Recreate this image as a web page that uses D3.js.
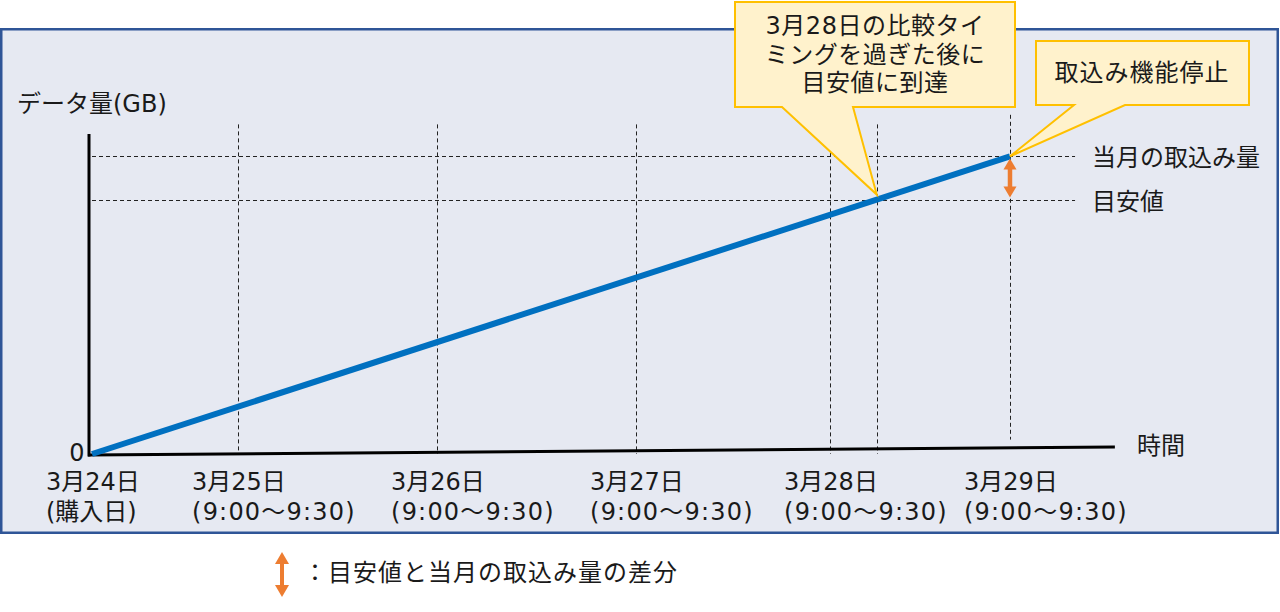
<!DOCTYPE html>
<html><head><meta charset="utf-8">
<script src="https://cdn.jsdelivr.net/npm/d3@7"></script>
<style>
html,body{margin:0;padding:0;background:#fff;}
svg text{font-family:"DejaVu Sans","Noto Sans CJK JP",sans-serif;fill:#1a1a1a;font-size:24px;font-weight:400;}
</style></head><body>
<svg id="c" width="1280" height="612"></svg>
<script>
// ---- data ----
const dayLabels = ["3月24日","3月25日","3月26日","3月27日","3月28日","3月29日"];
const subLabels = ["(購入日)","(9:00～9:30)","(9:00～9:30)","(9:00～9:30)","(9:00～9:30)","(9:00～9:30)"];
const dayPos = [0, 0.734, 1.734, 2.734, 3.709, 4.613];   // time position (days from purchase)
const lineDays = [0, 4.613];                            // accumulation line: time
const lineValues = [0, 93];                             // accumulation line: data amount
const currentAmount = 93;                               // 当月の取込み量
const targetAmount = 79.5;                              // 目安値
const yAxisLabel = "データ量(GB)";
const xAxisLabel = "時間";
const yTickLabels = ["0"];
const refLabels = ["当月の取込み量","目安値"];
const callout1Lines = ["3月28日の比較タイ","ミングを過ぎた後に","目安値に到達"];
const callout2Lines = ["取込み機能停止"];
const legendText = "：目安値と当月の取込み量の差分";

// ---- setup ----
const svg = d3.select("#c");
const x = d3.scaleLinear().domain([0,5]).range([92,1087]);
const y = d3.scaleLinear().domain([0,100]).range([454,134]);
const orange = "#ED7D31", blue = "#0070C0", dash = "#222";
const px = v => Math.round(v)+0.5;

// frame
svg.append("rect").attr("x",1.25).attr("y",29.25).attr("width",1276.5).attr("height",503.5)
  .attr("fill","#E6E9F2").attr("stroke","#2F5597").attr("stroke-width",2.5);

// crossing day (line reaches target)
const crossDay = lineDays[1]*targetAmount/lineValues[1];

// vertical dashed lines
const vDays = dayPos.slice(1).concat([crossDay]);
svg.selectAll("line.vg").data(vDays).enter().append("line").attr("class","vg")
  .attr("x1",d=>px(x(d))).attr("x2",d=>px(x(d)))
  .attr("y1",d=> d===dayPos[5] ? y(106) : y(103))
  .attr("y2",d=> d===dayPos[5] ? y(4.5) : y(0))
  .attr("stroke",dash).attr("stroke-width",1).attr("stroke-dasharray","4,3");

// horizontal dashed lines
svg.selectAll("line.hg").data([currentAmount,targetAmount]).enter().append("line").attr("class","hg")
  .attr("x1",x(0)).attr("x2",x(4.94))
  .attr("y1",d=>px(y(d))).attr("y2",d=>px(y(d)))
  .attr("stroke",dash).attr("stroke-width",1).attr("stroke-dasharray","4,3");

// axes
svg.append("line").attr("x1",x(0)-3).attr("x2",x(0)-3).attr("y1",y(100)).attr("y2",y(0)+2.5)
  .attr("stroke","#000").attr("stroke-width",3);
svg.append("line").attr("x1",x(0)-4).attr("y1",y(0)+1).attr("x2",x(5.14)).attr("y2",y(0)-7)
  .attr("stroke","#000").attr("stroke-width",3);

// accumulation line
const pts = lineDays.map((d,i)=>[d,lineValues[i]]);
svg.append("path").attr("d",d3.line().x(d=>x(d[0])).y(d=>y(d[1]))(pts))
  .attr("fill","none").attr("stroke",blue).attr("stroke-width",6);

// arrow helper
function dArrow(g, cx, y1, y2, hw, hh, sw){
  g.append("line").attr("x1",cx).attr("x2",cx).attr("y1",y1+hh-1).attr("y2",y2-hh+1)
    .attr("stroke",orange).attr("stroke-width",sw);
  g.append("path").attr("d",`M${cx},${y1} L${cx+hw/2},${y1+hh} L${cx-hw/2},${y1+hh} Z`).attr("fill",orange);
  g.append("path").attr("d",`M${cx},${y2} L${cx+hw/2},${y2-hh} L${cx-hw/2},${y2-hh} Z`).attr("fill",orange);
}
dArrow(svg.append("g"), x(lineDays[1]), y(currentAmount)+2, y(targetAmount)-2, 13, 11, 4.5);

// callouts
const tip1 = [x(crossDay), y(targetAmount)-5];
const tip2 = [x(lineDays[1]), y(currentAmount)];
svg.append("path").attr("d",`M735,2 H1015 V107 H853 L${tip1[0]},${tip1[1]} L782,107 H735 Z`)
  .attr("fill","#FFF2CC").attr("stroke","#FFC000").attr("stroke-width",2).attr("stroke-linejoin","miter");
svg.append("path").attr("d",`M1036,41 H1249 V105 H1125 L${tip2[0]},${tip2[1]} L1074,105 H1036 Z`)
  .attr("fill","#FFF2CC").attr("stroke","#FFC000").attr("stroke-width",2);
svg.selectAll("text.c1").data(callout1Lines).enter().append("text").attr("class","c1")
  .attr("x",875).attr("y",(d,i)=>34+i*28.5).attr("text-anchor","middle").attr("letter-spacing",0.5).text(d=>d);
svg.selectAll("text.c2").data(callout2Lines).enter().append("text").attr("class","c2")
  .attr("x",1142).attr("y",81).attr("text-anchor","middle").attr("letter-spacing",1).text(d=>d);

// labels
svg.append("text").attr("x",17).attr("y",112).text(yAxisLabel);
svg.append("text").attr("x",77).attr("y",461).attr("text-anchor","middle").text(yTickLabels[0]);
svg.append("text").attr("x",1137).attr("y",454).text(xAxisLabel);
svg.selectAll("text.ref").data([currentAmount,targetAmount]).enter().append("text").attr("class","ref")
  .attr("x",1092).attr("y",d=>y(d)+10).text((d,i)=>refLabels[i]);

// x labels
svg.selectAll("text.xl").data(dayPos).enter().append("text").attr("class","xl")
  .attr("x",d=>x(d)-46).attr("y",490).text((d,i)=>dayLabels[i]);
svg.selectAll("text.xs").data(dayPos).enter().append("text").attr("class","xs")
  .attr("x",d=>x(d)-46).attr("y",520).attr("letter-spacing",(d,i)=>i===0?0:1.2).text((d,i)=>subLabels[i]);

// legend
dArrow(svg.append("g"), 282, 552, 597, 14, 12, 4);
svg.append("text").attr("x",303).attr("y",581).attr("letter-spacing",1).text(legendText);
</script>
</body></html>
